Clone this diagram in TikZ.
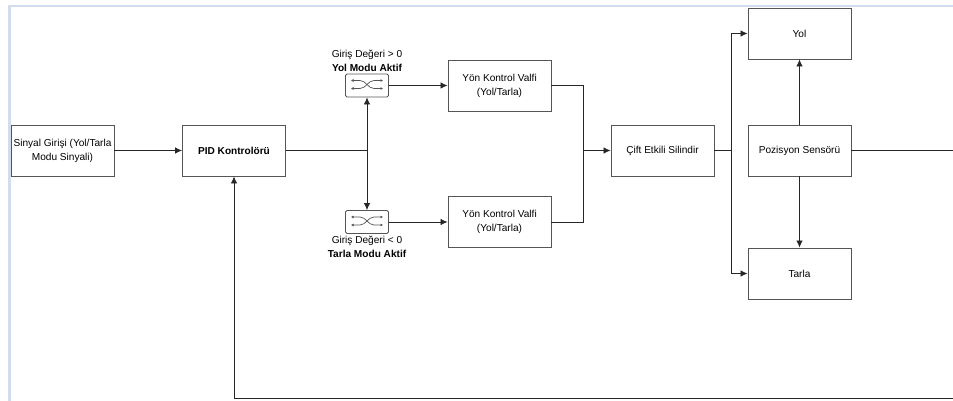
\documentclass[tikz,border=0pt]{standalone}
\usepackage{fontspec}
\setmainfont{Liberation Sans}
\usetikzlibrary{arrows.meta,positioning,calc}
\definecolor{lcband}{HTML}{D3DBEE}
\definecolor{lcedge}{HTML}{555555}
\tikzset{
  blockbox/.style={draw=lcedge, fill=white, line width=0.9pt, minimum width=103pt, minimum height=51pt, inner sep=1pt, align=center, font=\fontsize{10.1}{14}\selectfont},
  switchbox/.style={draw=lcedge, fill=white, line width=0.9pt, rounded corners=1.5pt, minimum width=43pt, minimum height=23pt, inner sep=0pt},
  modelabel/.style={align=center, inner sep=0pt, font=\fontsize{10.1}{13.5}\selectfont},
  flow/.style={draw=black!85, line width=0.8pt, -{Latex[length=7pt,width=6.5pt]}},
  wire/.style={draw=black!85, line width=0.8pt},
  glyph/.style={draw=lcedge, line width=0.7pt, {Latex[length=2.5pt,width=3pt]}-{Latex[length=2.5pt,width=3pt]}}
}
\newcommand{\switchglyph}[1]{%
  \draw[glyph] ($(#1)+(-16,-5)$) -- ($(#1)+(-7,-5)$) .. controls ($(#1)+(-1,-5)$) and ($(#1)+(1,3)$) .. ($(#1)+(7,3)$) -- ($(#1)+(16,3)$);
  \draw[glyph] ($(#1)+(-16,3)$) -- ($(#1)+(-7,3)$) .. controls ($(#1)+(-1,3)$) and ($(#1)+(1,-5)$) .. ($(#1)+(7,-5)$) -- ($(#1)+(16,-5)$);
}
\begin{document}
\begin{tikzpicture}[x=1pt, y=-1pt]
  \useasboundingbox (0,0) rectangle (953,401);
  % page edge
  \fill[lcband] (8,5) rectangle (953,7.5);
  \fill[lcband] (8,5) rectangle (10.5,401);
  % blocks
  \node[blockbox] (input) at (62.5,150.5) {Sinyal Girişi (Yol/Tarla\\Modu Sinyali)};
  \node[blockbox, font=\fontsize{10.1}{14}\selectfont\bfseries] (pid) at (234,150.5) {PID Kontrolörü};
  \node[blockbox] (valveup) at (499.5,85.5) {Yön Kontrol Valfi\\(Yol/Tarla)};
  \node[blockbox] (valvedown) at (499.5,222) {Yön Kontrol Valfi\\(Yol/Tarla)};
  \node[blockbox] (cyl) at (662.5,150.5) {Çift Etkili Silindir};
  \node[blockbox] (road) at (799.5,33.5) {Yol};
  \node[blockbox] (sensor) at (799.5,150.5) {Pozisyon Sensörü};
  \node[blockbox] (field) at (799.5,273.5) {Tarla};
  % switches
  \node[switchbox] (swup) at (367,85.5) {};
  \node[switchbox] (swdown) at (367,222) {};
  \switchglyph{swup}
  \switchglyph{swdown}
  \node[modelabel, above=2pt of swup] (labelup) {Giriş Değeri > 0\\\textbf{Yol Modu Aktif}};
  \node[modelabel, below=2pt of swdown] (labeldown) {Giriş Değeri < 0\\\textbf{Tarla Modu Aktif}};
  % helper points
  \coordinate (split) at (367,150.5);
  \coordinate (merge) at (583,150.5);
  \coordinate (branch) at (731,150.5);
  \coordinate (edgeup) at (953,150.5);
  \coordinate (edgedown) at (953,398.5);
  \coordinate (corner) at (234,398.5);
  % connectors
  \draw[flow] (input) -- (pid);
  \draw[wire] (pid) -- (split);
  \draw[flow] (split) -- (swup);
  \draw[flow] (split) -- (swdown);
  \draw[flow] (swup) -- (valveup);
  \draw[flow] (swdown) -- (valvedown);
  \draw[wire] (valveup) -| (merge);
  \draw[wire] (valvedown) -| (merge);
  \draw[flow] (merge) -- (cyl);
  \draw[wire] (cyl) -- (branch);
  \draw[flow] (branch) |- (road);
  \draw[flow] (branch) |- (field);
  \draw[flow] (sensor) -- (road);
  \draw[flow] (sensor) -- (field);
  \draw[wire] (sensor) -- (edgeup);
  \draw[wire] (edgedown) -- (corner);
  \draw[flow] (corner) -- (pid);
\end{tikzpicture}
\end{document}
